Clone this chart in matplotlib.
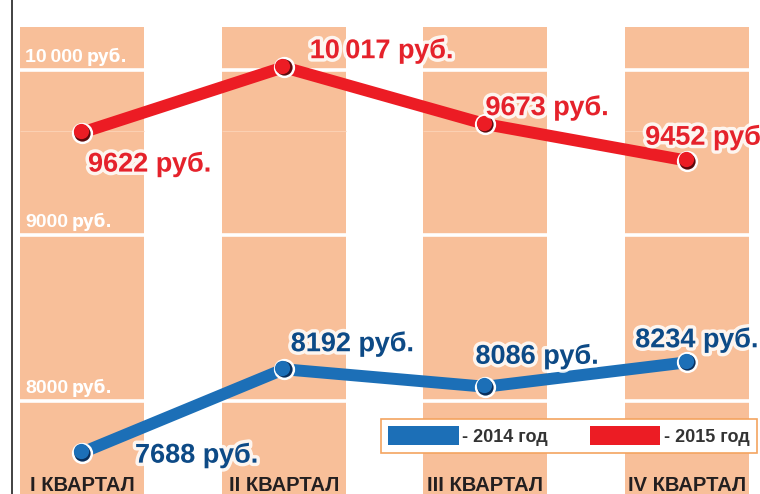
import numpy as np
import matplotlib
matplotlib.use("Agg")
import matplotlib.pyplot as plt
import matplotlib.patheffects as pe
from matplotlib.patches import Patch
from matplotlib.lines import Line2D
from matplotlib.transforms import offset_copy

# data
quarters = ["I КВАРТАЛ", "II КВАРТАЛ", "III КВАРТАЛ", "IV КВАРТАЛ"]
salary_2014 = [7688, 8192, 8086, 8234]
salary_2015 = [9622, 10017, 9673, 9452]
levels = [8000, 9000, 10000]
legend_labels = ["- 2014 год", "- 2015 год"]

# label offsets (pixels) from each point, to the text baseline start
offs_2014 = [(53, -10), (7, 18), (-10, 23), (-52, 15)]
offs_2015 = [(6, -39), (26, 9), (0, 9), (-42, 16)]

BAR = "#F8BF99"
RED = "#EC1C24"
BLUE = "#1C6FB7"
RED_TXT = "#E5222B"
BLUE_TXT = "#0D4A86"


def fmt(v):
    if v >= 10000:
        return f"{v:,}".replace(",", "\u2009")
    return str(v)


plt.rcParams['font.family'] = ['Liberation Sans', 'DejaVu Sans']

fig = plt.figure(figsize=(7.6, 4.94), dpi=100)
ax = fig.add_axes([0, 0, 1, 1])
ax.set_xlim(-0.4065, 3.361)
ax.set_ylim(7438, 10423)
ax.axis('off')

x = np.arange(len(quarters))
bw = 0.615
bar_top = 10260
bar_bottom = 7300
ax.bar(x, bar_top - bar_bottom, bottom=bar_bottom, width=bw, color=BAR, zorder=1)

# white cuts through the columns
for lv in levels:
    ax.axhline(lv, color='white', lw=2.6, zorder=2)
ax.hlines([9630] * len(x), x - bw / 2, x + bw / 2, color='#FBD0B2', lw=0.8, zorder=1.5)

# level captions on the first column
fig.canvas.draw()
for lv in levels:
    t = ax.annotate(fmt(lv), xy=(-bw / 2, lv), xytext=(5, 8), textcoords='offset pixels',
                    color='white', fontsize=14, fontweight='bold', ha='left', va='baseline',
                    zorder=2.5)
    fig.canvas.draw()
    w = t.get_window_extent().width
    ax.annotate("руб.", xy=(-bw / 2, lv), xytext=(5 + w + 4, 8), textcoords='offset pixels',
                color='white', fontsize=12, fontweight='bold', family=['DejaVu Sans'],
                ha='left', va='baseline', zorder=2.5)

# lines with markers
shade = offset_copy(ax.transData, fig=fig, x=-1.3, y=1.3, units='dots')
for vals, col, dark in [(salary_2014, BLUE, '#0A2F5C'), (salary_2015, RED, '#5E0A0D')]:
    ax.plot(x, vals, color=col, lw=8.6, solid_capstyle='round', solid_joinstyle='round', zorder=3)
    ax.plot(x, vals, 'o', ms=13.5, mfc=dark, mec='white', mew=1.8, zorder=4)
    ax.plot(x, vals, 'o', ms=11, mfc=col, mec='none', zorder=4.5, transform=shade)

glow = [pe.withStroke(linewidth=5, foreground='white', alpha=0.85)]
for vals, offs, col in [(salary_2014, offs_2014, BLUE_TXT), (salary_2015, offs_2015, RED_TXT)]:
    for xi, v, (dx, dy) in zip(x, vals, offs):
        ax.annotate(fmt(v) + " руб.", xy=(xi, v), xytext=(dx, dy), textcoords='offset pixels',
                    ha='left', va='baseline', fontsize=19.5, fontweight='bold', color=col,
                    path_effects=glow, zorder=5, annotation_clip=False)

# quarter names at the bottom
for xi, q in zip(x, quarters):
    ax.text(xi, 3 / 494, q, transform=ax.get_xaxis_transform(), ha='center', va='baseline',
            fontsize=14.5, fontweight='bold', color='#231F20', zorder=5)

handles = [Patch(facecolor=BLUE, edgecolor='none'), Patch(facecolor=RED, edgecolor='none')]
leg = ax.legend(handles, legend_labels, loc='lower left', bbox_to_anchor=(381 / 760, 41 / 494),
                bbox_transform=fig.transFigure, ncol=2, prop={'weight': 'bold', 'size': 13},
                labelcolor='#333333', handlelength=3.9, handleheight=1.22, handletextpad=0.2,
                columnspacing=2.3, borderpad=0.4, borderaxespad=0, fancybox=False,
                framealpha=1, edgecolor='#F4A460')
leg.get_frame().set_linewidth(1.2)
leg.set_zorder(6)

# left border line
fig.add_artist(Line2D([11.5 / 760] * 2, [0, 1], transform=fig.transFigure, color='#333333', lw=1.3))

fig.savefig('out.png', dpi=100)
